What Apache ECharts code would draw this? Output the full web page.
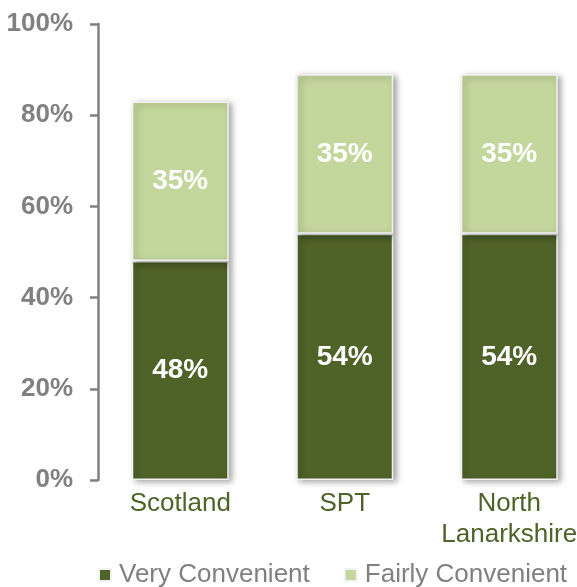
<!DOCTYPE html>
<html>
<head>
<meta charset="utf-8">
<script src="https://cdn.jsdelivr.net/npm/echarts@6/dist/echarts.min.js"></script>
<style>
html,body{margin:0;padding:0;background:#fff;overflow:hidden;width:577px;height:587px;}
#chart{width:592px;height:587px;}
</style>
</head>
<body>
<div id="chart"></div>
<script>
// Convenience of services: share of respondents by area
const categories = ['Scotland', 'SPT', 'North\nLanarkshire'];
const veryConvenient = [48, 54, 54];
const fairlyConvenient = [35, 35, 35];
const yTicks = [0, 20, 40, 60, 80, 100];

const DARK = '#4f6228';
const LIGHT = '#c3d69b';
const GREY = '#808080';
const FONT = 'Arial, "Liberation Sans", sans-serif';

const barStyle = (color) => ({
  color: color,
  borderColor: '#f2f2f2',
  borderWidth: 1.5,
  shadowColor: 'rgba(0,0,0,0.35)',
  shadowBlur: 6,
  shadowOffsetX: 3,
  shadowOffsetY: 2
});

const segLabel = {
  show: true,
  position: 'inside',
  formatter: (p) => p.value + '%',
  color: '#ffffff',
  fontWeight: 'bold',
  fontSize: 28,
  fontFamily: FONT
};

// The plot area runs a little past the right edge of the visible window.
const chart = echarts.init(document.getElementById('chart'), null, {renderer: 'canvas'});
chart.setOption({
  animation: false,
  backgroundColor: '#ffffff',
  grid: {left: 98, top: 24, width: 493.5, height: 456, containLabel: false},
  legend: {
    top: 557,
    left: 93,
    itemWidth: 12,
    itemHeight: 12,
    itemGap: 34,
    icon: 'rect',
    textStyle: {color: GREY, fontSize: 26, fontFamily: FONT, padding: [0, 0, 0, 3]},
    data: ['Very Convenient', 'Fairly Convenient']
  },
  xAxis: {
    type: 'category',
    data: categories,
    axisLine: {show: false},
    axisTick: {show: false},
    axisLabel: {
      interval: 0,
      color: DARK,
      fontSize: 26,
      fontFamily: FONT,
      margin: 8,
      lineHeight: 31
    }
  },
  yAxis: {
    type: 'value',
    min: 0,
    max: 100,
    interval: 20,
    splitLine: {show: false},
    axisLine: {show: true, lineStyle: {color: GREY, width: 2.5}},
    axisTick: {show: true, length: 8, lineStyle: {color: GREY, width: 2.5}},
    axisLabel: {
      color: GREY,
      fontSize: 26,
      fontWeight: 'bold',
      fontFamily: FONT,
      margin: 25,
      formatter: (v) => yTicks.includes(v) ? v + '%' : ''
    }
  },
  series: [
    {
      name: 'Very Convenient',
      type: 'bar',
      stack: 'total',
      barWidth: 97,
      data: veryConvenient,
      itemStyle: barStyle(DARK),
      label: segLabel
    },
    {
      name: 'Fairly Convenient',
      type: 'bar',
      stack: 'total',
      barWidth: 97,
      data: fairlyConvenient,
      itemStyle: barStyle(LIGHT),
      label: segLabel
    }
  ]
});
</script>
</body>
</html>
